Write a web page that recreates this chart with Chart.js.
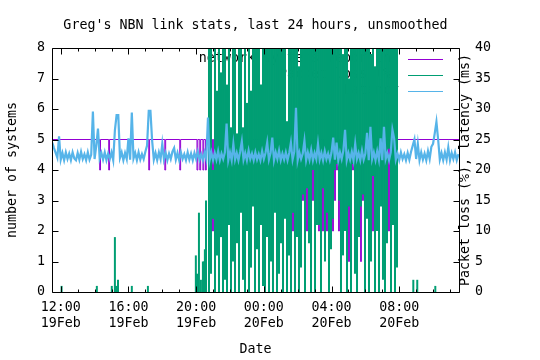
<!DOCTYPE html>
<html><head><meta charset="utf-8">
<script src="https://cdn.jsdelivr.net/npm/chart.js@4/dist/chart.umd.min.js"></script>
<style>html,body{margin:0;padding:0;background:#fff}</style>
</head><body>
<canvas id="c" width="540" height="360"></canvas>
<script>
// ---------- text ----------
const titleText = "Greg's NBN link stats, last 24 hours, unsmoothed";
const xTitle = 'Date';
const yTitle = 'number of systems';
const y2Title = 'Packet loss (%), latency (ms)';
const seriesNames = ['network systems reporting', 'Packet loss (%)', 'Latency'];

// ---------- x axis (minutes since 00:00 19 Feb) ----------
const xMin = 689, xMax = 2132;
const hourTicks = [720,780,840,900,960,1020,1080,1140,1200,1260,1320,1380,1440,1500,1560,1620,1680,1740,1800,1860,1920,1980,2040,2100];
const labelTicks = [720, 960, 1200, 1440, 1680, 1920];
const labelTimes = ['12:00', '16:00', '20:00', '00:00', '04:00', '08:00'];
const labelDates = ['19Feb', '19Feb', '19Feb', '20Feb', '20Feb', '20Feb'];
const yTicks = [0,1,2,3,4,5,6,7,8];
const y2Ticks = [0,5,10,15,20,25,30,35,40];

// ---------- latency (ms), one reading every 6 minutes from 690 ----------
const latStart = 690, latStep = 6;
const latency = [
24.5,23.6,22.8,22.0,25.5,21.7,22.8,21.6,22.9,21.8,
22.7,21.6,22.9,21.9,21.6,22.8,21.7,23.0,21.8,22.6,
21.6,22.9,21.7,22.5,29.6,21.8,24.0,26.8,21.9,22.8,
21.7,22.9,21.6,22.7,21.8,22.9,21.6,26.5,29.0,29.0,
22.0,22.9,21.6,22.8,21.8,25.2,21.7,29.4,21.9,22.8,
21.6,22.9,21.7,22.6,21.8,23.0,24.0,29.7,29.7,24.8,
21.7,22.8,21.6,22.9,21.8,24.3,21.7,22.8,21.6,22.7,
21.8,23.0,23.6,21.7,22.8,21.6,22.9,21.8,22.6,21.6,
22.9,21.7,22.7,21.6,22.8,21.8,23.0,21.7,22.6,21.6,
22.9,21.8,28.6,21.6,22.9,21.6,22.8,21.7,23.1,21.6,
22.7,21.8,22.9,27.6,21.6,22.9,21.6,24.3,21.7,22.8,
21.6,23.0,24.7,21.7,22.8,21.6,23.2,21.8,22.7,21.6,
22.9,21.7,22.6,21.6,23.1,21.8,22.8,24.5,21.7,22.8,
25.3,21.6,22.9,21.8,23.2,21.6,22.7,21.7,22.9,21.6,
22.8,24.5,21.7,23.0,30.2,21.6,22.9,21.8,22.7,24.8,
21.6,22.9,21.7,23.3,21.6,22.8,21.8,24.3,21.7,22.8,
21.6,23.1,21.8,22.7,21.6,22.9,25.3,21.7,24.5,21.6,
22.9,21.8,23.2,26.6,21.6,22.8,21.7,23.0,21.6,24.3,
21.8,22.8,21.6,23.2,21.7,22.7,26.1,21.6,27.1,21.8,
22.9,21.6,23.1,21.7,25.2,21.6,27.1,21.8,22.8,21.6,
22.9,26.6,25.2,21.7,22.7,21.6,22.9,21.8,22.6,21.6,
22.8,21.7,23.0,24.0,25.0,21.8,24.3,21.6,22.9,21.7,
22.7,21.6,23.1,21.8,23.8,24.3,26.0,27.9,25.0,21.7,
22.8,21.6,22.9,21.7,23.7,21.6,22.8,21.8,22.9,21.6,
22.6];

// ---------- number of systems (step changes) ----------
const sysTimes = [689, 858,861, 890,893, 1032,1035, 1089,1092, 1142,1145, 1203,1206, 1213,1216, 1224,1227, 1233,1236,
  1258.3,1261.3, 1542,1545, 1577.4,1580.4, 1591.6,1594.6, 1612.9,1615.9, 1634.1,1637.1, 1648.3,1651.3,
  1662.5,1665.5, 1683.8,1686.8, 1690.9,1693.9, 1698,1701, 1705,1708, 1740.5,1743.5, 1754.7,1757.7,
  1783,1786, 1790.1,1793.1, 1825.6,1828.6, 1882.3,1885.3, 2132];
const sysValues = [5, 4,5, 4,5, 4,5, 4,5, 4,5, 4,5, 4,5, 4,5, 4,5,
  2,5, 2,5, 3,5, 2,5, 3,5, 2,5, 2,5,
  2,5, 2,5, 3,5, 4,5, 2,5, 1,5, 4,5,
  1,5, 3,5, 2,5, 2,5, 5];

// ---------- packet loss (%) ----------
// isolated readings before and after the outage
const lossSpikeTimes = [723,848,901,912,916,923,972,1029,1199,1203,1206,1210,1217,1224,1228,1231,1235,1970,1984,2048];
const lossSpikeValues = [1,1,1,9,1,2,1,1,6,3,1,13,2,5,5,7,15,2,2,1];
// during the outage: low..high range seen in each ~7 minute slot
const outageTimes = [1245.6,1252.7,1259.8,1266.9,1274.0,1281.1,1288.2,1295.3,1302.4,1309.5,
 1316.5,1323.6,1330.7,1337.8,1344.9,1352.0,1359.1,1366.2,1373.3,1380.4,
 1387.5,1394.5,1401.6,1408.7,1415.8,1422.9,1430.0,1437.1,1444.2,1451.3,
 1458.4,1465.5,1472.5,1479.6,1486.7,1493.8,1500.9,1508.0,1515.1,1522.2,
 1529.3,1536.4,1543.5,1550.5,1557.6,1564.7,1571.8,1578.9,1586.0,1593.1,
 1600.2,1607.3,1614.4,1621.5,1628.5,1635.6,1642.7,1649.8,1656.9,1664.0,
 1671.1,1678.2,1685.3,1692.4,1699.5,1706.5,1713.6,1720.7,1727.8,1734.9,
 1742.0,1749.1,1756.2,1763.3,1770.4,1777.5,1784.5,1791.6,1798.7,1805.8,
 1812.9,1820.0,1827.1,1834.2,1841.3,1848.4,1855.5,1862.5,1869.6,1876.7,
 1883.8,1890.9,1898.0,1905.1,1912.2];
const outageLow = [0,3,12,0,6,0,9,0,2,0,
 11,0,5,0,8,0,13,2,0,10,
 0,4,14,0,7,0,11,1,0,9,
 0,5,0,13,0,3,8,0,12,0,
 6,0,13,0,9,0,4,16,0,17,
 8,0,20,0,11,11,0,17,5,13,
 0,7,12,20,21,15,0,6,10,0,
 14,0,21,3,0,9,14,16,0,12,
 0,5,19,0,10,0,14,2,0,8,
 23.5,0,11,0,4];
const outageHigh = [100,100,20,100,33,100,36,100,100,34,
 100,27,100,100,26,100,100,27,100,31,
 100,33,100,100,100,100,34,100,100,100,
 100,100,100,100,100,100,100,100,100,28,
 100,100,100,100,100,37,100,100,100,100,
 100,100,100,100,100,100,100,100,100,100,
 100,100,100,100,100,100,100,39,100,100,
 35,100,100,100,100,100,100,100,100,100,
 100,39,100,37,100,100,100,100,100,100,
 100,100,100,100,100];

// ---------- colours ----------
const colSys = '#9400d3', colLoss = '#009e73', colLat = '#56b4e9';
const FONT = '"DejaVu Sans Mono", "Liberation Mono", monospace';
const FS = 13.3;

const latData = latency.map((v, i) => ({x: latStart + latStep * i, y: v}));
const sysData = sysTimes.map((t, i) => ({x: t, y: sysValues[i]}));
const lossData = lossSpikeTimes.map((t, i) => ({x: t, y: [0, lossSpikeValues[i]]}))
  .concat(outageTimes.map((t, i) => ({x: t, y: [outageLow[i], outageHigh[i]]})));

const rows = [59, 75, 91];
const decor = {
  id: 'decor',
  beforeDatasetsDraw(chart) {
    const ctx = chart.ctx;
    ctx.save();
    ctx.font = FS + 'px ' + FONT;
    ctx.fillStyle = '#000';
    ctx.textAlign = 'right';
    ctx.textBaseline = 'middle';
    for (let i = 0; i < 3; i++) ctx.fillText(seriesNames[i], 399, rows[i]);
    ctx.restore();
  },
  afterDatasetsDraw(chart) {
    const ctx = chart.ctx, a = chart.chartArea;
    const xs = chart.scales.x, ys = chart.scales.y, y2s = chart.scales.y2;
    ctx.save();
    const cols = [colSys, colLoss, colLat];
    ctx.lineWidth = 1;
    for (let i = 0; i < 3; i++) {
      ctx.strokeStyle = cols[i];
      ctx.beginPath(); ctx.moveTo(408, rows[i] + 0.5); ctx.lineTo(443, rows[i] + 0.5); ctx.stroke();
    }
    ctx.strokeStyle = '#000';
    const L = Math.round(a.left) + 0.5, R = Math.round(a.right) + 0.5, T = Math.round(a.top) + 0.5, B = Math.round(a.bottom) + 0.5;
    ctx.beginPath();
    ctx.moveTo(L, T); ctx.lineTo(R, T); ctx.lineTo(R, B); ctx.lineTo(L, B); ctx.closePath();
    ctx.stroke();
    ctx.beginPath();
    yTicks.forEach(v => { const y = Math.round(ys.getPixelForValue(v)) + 0.5; ctx.moveTo(L, y); ctx.lineTo(L + 6, y); });
    y2Ticks.forEach(v => { const y = Math.round(y2s.getPixelForValue(v)) + 0.5; ctx.moveTo(R, y); ctx.lineTo(R - 6, y); });
    hourTicks.forEach(v => {
      const x = Math.round(xs.getPixelForValue(v)) + 0.5;
      const len = labelTicks.includes(v) ? 6 : 3;
      ctx.moveTo(x, B); ctx.lineTo(x, B - len);
      ctx.moveTo(x, T); ctx.lineTo(x, T + len);
    });
    ctx.stroke();
    ctx.font = FS + 'px ' + FONT;
    ctx.fillStyle = '#000';
    ctx.textAlign = 'center';
    ctx.textBaseline = 'alphabetic';
    const cx = (a.left + a.right) / 2, cy = (a.top + a.bottom) / 2;
    ctx.fillText(titleText, cx, 29);
    ctx.fillText(xTitle, cx, 353);
    ctx.textBaseline = 'middle';
    ctx.save(); ctx.translate(13, cy); ctx.rotate(-Math.PI / 2); ctx.fillText(yTitle, 0, 0); ctx.restore();
    ctx.save(); ctx.translate(466, cy); ctx.rotate(-Math.PI / 2); ctx.fillText(y2Title, 0, 0); ctx.restore();
    ctx.restore();
  }
};

const tickFont = {family: FONT, size: FS, lineHeight: 1.22};

new Chart(document.getElementById('c'), {
  type: 'bar',
  data: {
    datasets: [
      {type: 'line', label: seriesNames[2], data: latData, yAxisID: 'y2', borderColor: colLat, borderWidth: 2.2,
       pointRadius: 0, tension: 0, order: 1},
      {type: 'bar', label: seriesNames[1], data: lossData, yAxisID: 'y2', backgroundColor: colLoss, borderWidth: 0,
       barThickness: 2, inflateAmount: 0, order: 2},
      {type: 'line', label: seriesNames[0], data: sysData, yAxisID: 'y', borderColor: colSys, borderWidth: 1,
       pointRadius: 0, stepped: true, order: 3}
    ]
  },
  options: {
    responsive: false, animation: false, devicePixelRatio: 1,
    layout: {padding: {top: 48, left: 0, right: 0, bottom: 0}},
    plugins: {legend: {display: false}, tooltip: {enabled: false}, title: {display: false}},
    scales: {
      x: {
        type: 'linear', min: xMin, max: xMax, offset: false,
        grid: {display: false, drawTicks: false}, border: {display: false},
        afterBuildTicks: s => { s.ticks = hourTicks.map(v => ({value: v})); },
        ticks: {
          autoSkip: false, maxRotation: 0, padding: 7, color: '#000', font: tickFont,
          callback: v => { const i = labelTicks.indexOf(v); return i < 0 ? '' : [labelTimes[i], labelDates[i]]; }
        },
        afterFit: s => { s.height = 68; }
      },
      y: {
        position: 'left', min: 0, max: 8,
        grid: {display: false, drawTicks: false}, border: {display: false},
        afterBuildTicks: s => { s.ticks = yTicks.map(v => ({value: v})); },
        ticks: {padding: 7, color: '#000', font: tickFont},
        afterFit: s => { s.width = 52; }
      },
      y2: {
        position: 'right', min: 0, max: 40,
        grid: {display: false, drawTicks: false}, border: {display: false},
        afterBuildTicks: s => { s.ticks = y2Ticks.map(v => ({value: v})); },
        ticks: {padding: 16, color: '#000', font: tickFont},
        afterFit: s => { s.width = 81; }
      }
    }
  },
  plugins: [decor]
});
</script>
</body></html>
